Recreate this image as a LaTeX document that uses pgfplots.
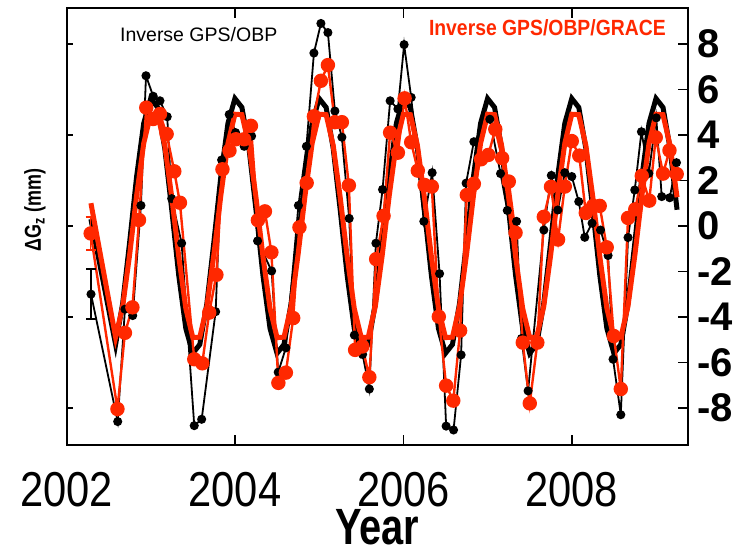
\documentclass[border=0pt]{standalone}
\usepackage{pgfplots}
\pgfplotsset{compat=1.18}
\usepackage{pgfplotstable}
\usepackage{fontspec}
\setmainfont{Liberation Sans}
\newfontfamily\tickfont[FakeStretch=0.85]{Liberation Sans}
\newfontfamily\yearfont[FakeStretch=0.78]{Liberation Sans}
\newfontfamily\narrowfont[FakeStretch=0.88]{Liberation Sans}
\usetikzlibrary{calc}
\definecolor{gred}{RGB}{255,40,0}

% inverse GPS/OBP monthly solutions (black dots)
\pgfplotstableread{
t v
2002.291 -3.00
2002.608 -8.60
2002.694 -3.66
2002.786 -3.94
2002.884 0.90
2002.944 6.60
2003.030 5.70
2003.110 5.50
2003.196 4.80
2003.249 1.20
2003.367 -0.76
2003.517 -8.78
2003.605 -8.50
2003.771 -3.77
2003.842 2.90
2003.932 4.90
2004.008 4.10
2004.110 3.50
2004.198 3.95
2004.269 -0.66
2004.436 -1.98
2004.514 -6.43
2004.605 -5.36
2004.754 0.90
2004.849 3.50
2004.938 7.60
2005.021 8.90
2005.104 8.50
2005.187 5.05
2005.270 3.90
2005.357 0.33
2005.418 -4.80
2005.516 -5.65
2005.596 -7.17
2005.674 -0.76
2005.753 1.60
2005.843 5.50
2005.935 5.14
2006.009 7.97
2006.093 5.65
2006.243 0.20
2006.342 2.34
2006.430 -2.10
2006.508 -8.80
2006.596 -8.97
2006.686 -5.67
2006.745 1.88
2006.837 3.70
2007.027 4.69
2007.154 2.30
2007.234 0.68
2007.344 0.20
2007.403 -4.95
2007.481 -7.25
2007.668 -0.18
2007.757 2.22
2007.834 0.70
2007.917 2.34
2008.000 2.17
2008.083 1.07
2008.154 -0.50
2008.241 0.12
2008.341 -0.18
2008.431 -1.30
2008.490 -5.86
2008.582 -8.30
2008.668 -0.51
2008.748 1.58
2008.827 4.14
2008.914 2.31
2009.003 4.75
2009.068 1.29
2009.163 1.24
2009.243 2.78
}\gpsobp

% inverse GPS/OBP/GRACE monthly solutions (red dots)
\pgfplotstableread{
t v
2002.287 -0.33
2002.605 -8.05
2002.694 -4.70
2002.783 -3.58
2002.861 0.26
2002.947 5.20
2003.030 4.70
2003.110 4.92
2003.189 4.04
2003.280 2.40
2003.347 1.02
2003.517 -5.86
2003.612 -6.04
2003.695 -3.81
2003.780 -2.15
2003.852 2.49
2003.935 3.31
2004.012 3.81
2004.110 3.81
2004.190 4.40
2004.273 0.25
2004.356 0.64
2004.433 -1.16
2004.516 -6.90
2004.605 -6.45
2004.692 -4.05
2004.766 -0.06
2004.852 1.89
2004.938 4.82
2005.021 6.38
2005.104 7.07
2005.187 4.56
2005.270 4.56
2005.353 1.78
2005.427 -5.45
2005.513 -5.30
2005.596 -6.65
2005.677 -1.46
2005.765 0.44
2005.843 4.10
2005.935 3.22
2006.015 5.61
2006.093 3.68
2006.172 2.43
2006.252 1.80
2006.338 1.73
2006.421 -3.99
2006.508 -7.02
2006.593 -7.68
2006.674 -4.60
2006.754 1.36
2006.837 1.85
2006.923 2.93
2007.009 3.12
2007.092 4.25
2007.173 2.98
2007.252 1.95
2007.332 -0.30
2007.418 -5.13
2007.501 -7.80
2007.591 -5.13
2007.668 0.40
2007.753 1.72
2007.837 -0.60
2007.917 1.73
2008.000 3.73
2008.089 3.09
2008.166 0.57
2008.253 0.88
2008.332 0.88
2008.415 -0.94
2008.499 -4.84
2008.582 -7.17
2008.668 0.35
2008.754 0.73
2008.831 2.20
2008.920 1.11
2008.997 3.89
2009.084 2.30
2009.160 3.32
2009.246 2.28
}\gpsobpgrace

% forward models (thick lines): b = black, r = red
\pgfplotstableread{
t b r
2002.290 0.30 1.00
2002.583 -5.21 -4.89
2002.667 -3.41 -3.54
2002.750 -0.71 -1.26
2002.833 2.18 1.35
2002.917 4.51 3.63
2003.000 5.60 4.91
2003.083 5.21 4.89
2003.167 3.41 3.54
2003.250 0.71 1.26
2003.333 -2.18 -1.35
2003.417 -4.51 -3.63
2003.500 -5.60 -4.91
2003.583 -5.21 -4.89
2003.667 -3.41 -3.54
2003.750 -0.71 -1.26
2003.833 2.18 1.35
2003.917 4.51 3.63
2004.000 5.60 4.91
2004.083 5.21 4.89
2004.167 3.41 3.54
2004.250 0.71 1.26
2004.333 -2.18 -1.35
2004.417 -4.51 -3.63
2004.500 -5.60 -4.91
2004.583 -5.21 -4.89
2004.667 -3.41 -3.54
2004.750 -0.71 -1.26
2004.833 2.18 1.35
2004.917 4.51 3.63
2005.000 5.60 4.91
2005.083 5.21 4.89
2005.167 3.41 3.54
2005.250 0.71 1.26
2005.333 -2.18 -1.35
2005.417 -4.51 -3.63
2005.500 -5.60 -4.91
2005.583 -5.21 -4.89
2005.667 -3.41 -3.54
2005.750 -0.71 -1.26
2005.833 2.18 1.35
2005.917 4.51 3.63
2006.000 5.60 4.91
2006.083 5.21 4.89
2006.167 3.41 3.54
2006.250 0.71 1.26
2006.333 -2.18 -1.35
2006.417 -4.51 -3.63
2006.500 -5.60 -4.91
2006.583 -5.21 -4.89
2006.667 -3.41 -3.54
2006.750 -0.71 -1.26
2006.833 2.18 1.35
2006.917 4.51 3.63
2007.000 5.60 4.91
2007.083 5.21 4.89
2007.167 3.41 3.54
2007.250 0.71 1.26
2007.333 -2.18 -1.35
2007.417 -4.51 -3.63
2007.500 -5.60 -4.91
2007.583 -5.21 -4.89
2007.667 -3.41 -3.54
2007.750 -0.71 -1.26
2007.833 2.18 1.35
2007.917 4.51 3.63
2008.000 5.60 4.91
2008.083 5.21 4.89
2008.167 3.41 3.54
2008.250 0.71 1.26
2008.333 -2.18 -1.35
2008.417 -4.51 -3.63
2008.500 -5.60 -4.91
2008.583 -5.21 -4.89
2008.667 -3.41 -3.54
2008.750 -0.71 -1.26
2008.833 2.18 1.35
2008.917 4.51 3.63
2009.000 5.60 4.91
2009.083 5.21 4.89
2009.167 3.41 3.54
2009.250 0.71 1.26
}\models

\begin{document}
\begin{tikzpicture}
% left axis: ticks every 4 mm, no numbers
\begin{axis}[
	scale only axis, width=310.75pt, height=218.5pt,
	xmin=2002, xmax=2009.38, ymin=-9.63, ymax=9.58,
	axis x line=none, axis y line*=left,
	axis line style={line width=1pt},
	ytick={-8,-4,0,4,8}, yticklabels={},
	tick align=inside, major tick length=3.5pt,
	tick style={line width=0.8pt, black},
]
\end{axis}
\begin{axis}[
	scale only axis, width=310.75pt, height=218.5pt,
	xmin=2002, xmax=2009.38, ymin=-9.63, ymax=9.58,
	axis line style={line width=1pt},
	xtick={2002,2004,2006,2008},
	ytick={-8,-6,...,8},
	ytick pos=right, yticklabel pos=right,
	tick align=inside, major tick length=5pt,
	tick style={line width=0.8pt, black},
	/pgf/number format/assume math mode=true,
	/pgf/number format/set thousands separator={},
	xticklabel style={font=\tickfont\fontsize{24.5}{24.5}\selectfont, anchor=base,
		inner sep=0pt, yshift=-31pt},
	yticklabel style={font=\bfseries\fontsize{20}{20}\selectfont, xshift=1pt},
	xlabel={Year},
	xlabel style={font=\yearfont\bfseries\fontsize{25.5}{25.5}\selectfont, inner sep=0pt,
		at={(axis description cs:0.5,0)}, anchor=base, yshift=-50pt},
	clip=false,
]
\addplot[black, line width=2.5pt, line join=miter] table[x=t, y=b] {\models};
\addplot[black, line width=0.9pt, mark=*, mark size=1.8pt] table[x=t, y=v] {\gpsobp};
\addplot[gred, line width=2.5pt, line join=miter] table[x=t, y=r] {\models};
\addplot[gred, line width=1.2pt, mark=*, mark size=3pt] table[x=t, y=v] {\gpsobpgrace};
% error bars on the first epoch
\addplot[black, line width=0.8pt, mark=none, forget plot,
	error bars/.cd, y dir=both, y explicit,
	error bar style={line width=0.8pt},
	error mark options={rotate=90, mark size=2.5pt, line width=0.8pt}]
	coordinates {(2002.291,-3.0) +- (0,1.1)};
\addplot[gred, line width=0.8pt, mark=none, forget plot,
	error bars/.cd, y dir=both, y explicit,
	error bar style={line width=0.8pt},
	error mark options={rotate=90, mark size=2.5pt, line width=0.8pt}]
	coordinates {(2002.287,-0.33) +- (0,0.73)};
\node[anchor=base, font=\fontsize{9.75}{9.75}\selectfont] at (axis cs:2003.57,8.09) {Inverse GPS/OBP};
\node[anchor=base, text=gred, font=\narrowfont\bfseries\fontsize{11}{11}\selectfont] at (axis cs:2007.71,8.35) {Inverse GPS/OBP/GRACE};
\node[rotate=90, font=\yearfont\bfseries\fontsize{11.5}{11.5}\selectfont] at (axis description cs:-0.0507,0.538) {ΔG\textsubscript{z} (mm)};
\end{axis}
\pgfresetboundingbox
\path[use as bounding box] ($(current axis.south west)+(-33.25pt,-54pt)$) rectangle ($(current axis.north east)+(26pt,4pt)$);
\end{tikzpicture}
\end{document}
